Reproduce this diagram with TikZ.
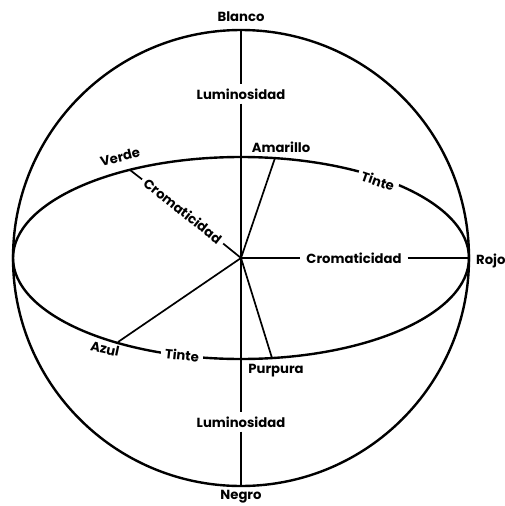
\documentclass[tikz,border=0pt]{standalone}
\usepackage{fontspec}
\setmainfont{Poppins}
\begin{document}
\begin{tikzpicture}[x=1pt,y=-1pt,
  lbl/.style={font=\fontsize{13.2}{13.2}\selectfont\bfseries, inner sep=1pt},
  gap/.style={lbl, fill=white, inner sep=4pt},
  gapnf/.style={lbl, inner sep=4pt},
  thickline/.style={line width=2.4pt},
  thinline/.style={line width=1.7pt}]
\useasboundingbox (0,0) rectangle (504,506);
% key points
\coordinate (O) at (241,258);
\coordinate (T) at (241,30);
\coordinate (B) at (241,486);
\coordinate (A) at (275,158);
\coordinate (V) at (130,170);
\coordinate (R) at (469,258);
\coordinate (Az) at (118,342);
\coordinate (P) at (272,358);
% sphere and equator
\draw[thickline] (O) circle (228pt);
\draw[thickline] (O) ellipse [x radius=228pt, y radius=101pt];
% labels
\node[lbl] (blanco) at (241,17) {Blanco};
\node[lbl] (negro) at (241,497) {Negro};
\node[gapnf] (lumT) at (241,94) {Luminosidad};
\node[gapnf] (lumB) at (241,422) {Luminosidad};
\node[gapnf, inner xsep=6pt] (cromR) at (354,258) {Cromaticidad};
\node[gapnf, rotate=-38.4] (cromV) at (183,211) {Cromaticidad};
\node[gap, rotate=-19] (tinteU) at (378,181) {Tinte};
\node[gap, rotate=-6] (tinteL) at (182,355) {Tinte};
\node[lbl] (amarillo) at (281,147) {Amarillo};
\node[lbl, rotate=14] (verde) at (120,157) {Verde};
\node[lbl, rotate=-12] (azul) at (105,349) {Azul};
\node[lbl] (purpura) at (276,371) {Purpura};
\node[lbl, anchor=west] (rojo) at (475,261) {Rojo};
% axes and radii
\draw[thinline] (T) -- (lumT) -- (O) -- (lumB) -- (B);
\draw[thinline] (O) -- (cromR) -- (R);
\draw[thinline] (V) -- (cromV) -- (O);
\draw[thinline] (O) -- (A);
\draw[thinline] (O) -- (Az);
\draw[thinline] (O) -- (P);
\end{tikzpicture}
\end{document}
